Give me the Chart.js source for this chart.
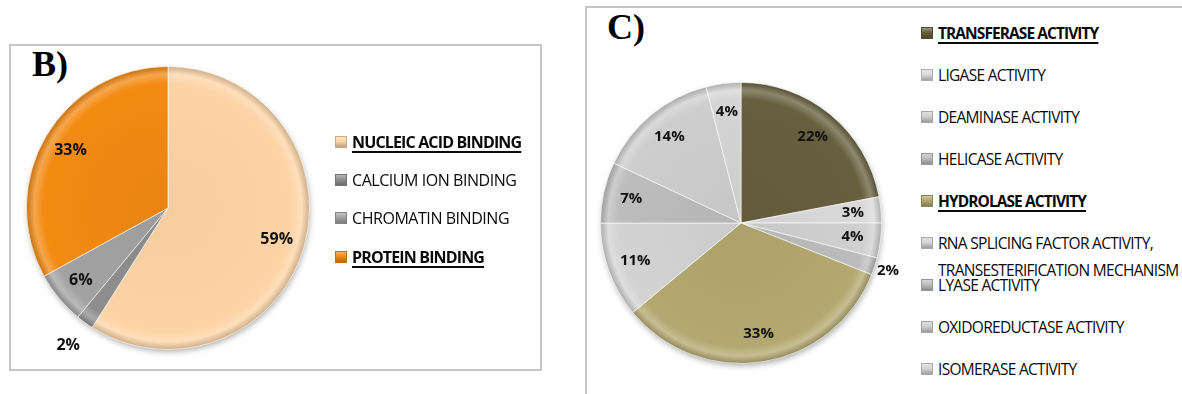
<!DOCTYPE html>
<html>
<head>
<meta charset="utf-8">
<script src="https://cdn.jsdelivr.net/npm/chart.js@4.4.1/dist/chart.umd.min.js"></script>
<style>
  html, body { margin: 0; padding: 0; background: #fff; }
  body { width: 1182px; height: 394px; overflow: hidden; position: relative; font-family: 'Open Sans', sans-serif; }
  .box { position: absolute; border: 2px solid #c6c6c6; box-sizing: border-box; }
  .tag { position: absolute; font: bold 36px 'Liberation Serif', 'Times New Roman', serif; color: #000; line-height: 1; }
  .pie { position: absolute; }
  .legend { position: absolute; }
  .item { position: absolute; left: 0; display: flex; align-items: flex-start; white-space: nowrap; }
  .mark { width: 12px; height: 12px; margin: 7px 5px 0 0; box-sizing: border-box; flex: none; }
  .txt { line-height: 27px; color: #0a0a0a; }
  .txt.hl { font-weight: bold; text-decoration: underline; text-decoration-thickness: 1.5px; text-underline-offset: 3px; }
  #legendB .txt { font-size: 16px; letter-spacing: -0.45px; }
  #legendB .txt.hl { letter-spacing: -0.85px; }
  #legendC .txt { font-size: 15.5px; letter-spacing: -0.7px; }
  #legendC .txt.hl { letter-spacing: -0.93px; }
</style>
</head>
<body>
<div class="box" style="left:9px;top:44px;width:533px;height:327px;"></div>
<div class="box" style="left:585px;top:6px;width:620px;height:420px;"></div>
<div class="tag" style="left:32px;top:46px;">B)</div>
<div class="tag" style="left:607px;top:9px;">C)</div>

<canvas id="pieB" class="pie" width="330" height="324" style="left:10px;top:45px;"></canvas>
<canvas id="pieC" class="pie" width="330" height="340" style="left:590px;top:50px;"></canvas>
<div id="legendB" class="legend" style="left:335px;top:0;"></div>
<div id="legendC" class="legend" style="left:921px;top:0;"></div>

<script>
// Molecular function shares (percent of annotated proteins)
const categoriesB = ['NUCLEIC ACID BINDING', 'CALCIUM ION BINDING', 'CHROMATIN BINDING', 'PROTEIN BINDING'];
const percentB = [59, 2, 6, 33];
const highlightB = ['NUCLEIC ACID BINDING', 'PROTEIN BINDING'];

const categoriesC = [
  'TRANSFERASE ACTIVITY',
  'LIGASE ACTIVITY',
  'DEAMINASE ACTIVITY',
  'HELICASE ACTIVITY',
  'HYDROLASE ACTIVITY',
  'RNA SPLICING FACTOR ACTIVITY, TRANSESTERIFICATION MECHANISM',
  'LYASE ACTIVITY',
  'OXIDOREDUCTASE ACTIVITY',
  'ISOMERASE ACTIVITY'
];
const percentC = [22, 3, 4, 2, 33, 11, 7, 14, 4];
const highlightC = ['TRANSFERASE ACTIVITY', 'HYDROLASE ACTIVITY'];

// Slice colours
const coloursB = ['#FDD4A6', '#8E8E8E', '#A2A2A2', '#F38A12'];
const coloursC = ['#675F3E', '#DADADA', '#D0D0D0', '#BCBCBC', '#B3A870', '#D3D3D3', '#BDBDBD', '#CECECE', '#D5D5D5'];

function mix(hex, t, target) {
  const n = parseInt(hex.slice(1), 16);
  const f = c => Math.round(c + (target - c) * t);
  return `rgb(${f(n >> 16)},${f((n >> 8) & 255)},${f(n & 255)})`;
}

// Bevelled look: radial gradient with a light rim and a darker outer edge
function shaded(colours) {
  return ctx => {
    const chart = ctx.chart;
    const base = colours[ctx.dataIndex];
    const ctrl = chart.getDatasetMeta(0).controller;
    const a = chart.chartArea;
    if (!a || !ctrl || !ctrl.outerRadius) return base;
    const cx = (a.left + a.right) / 2, cy = (a.top + a.bottom) / 2, r = ctrl.outerRadius;
    const g = chart.ctx.createRadialGradient(cx, cy, 0, cx, cy, r);
    g.addColorStop(0, mix(base, 0.04, 0));
    g.addColorStop(0.88, base);
    g.addColorStop(0.945, mix(base, 0.25, 255));
    g.addColorStop(1, mix(base, 0.18, 0));
    return g;
  };
}

// Soft drop shadow under the whole pie
const pieShadow = {
  id: 'pieShadow',
  beforeDatasetsDraw(chart) {
    const arc = chart.getDatasetMeta(0).data[0];
    if (!arc) return;
    const c = chart.ctx;
    c.save();
    c.shadowColor = 'rgba(0,0,0,0.35)';
    c.shadowBlur = 6;
    c.shadowOffsetX = 1;
    c.shadowOffsetY = 3;
    c.fillStyle = '#ddd';
    c.beginPath();
    c.arc(arc.x, arc.y, arc.outerRadius - 1, 0, Math.PI * 2);
    c.fill();
    c.restore();
  }
};

// Percentage labels: inside the slice, or just outside for tiny slices
const percentLabels = {
  id: 'percentLabels',
  afterDatasetsDraw(chart, args, opts) {
    const meta = chart.getDatasetMeta(0);
    const values = chart.data.datasets[0].data;
    const c = chart.ctx;
    c.save();
    c.font = `bold ${opts.size}px "Open Sans", sans-serif`;
    c.fillStyle = '#111';
    c.textAlign = 'center';
    c.textBaseline = 'middle';
    meta.data.forEach((arc, i) => {
      const mid = (arc.startAngle + arc.endAngle) / 2;
      const k = values[i] <= opts.outsideBelow ? opts.outside : opts.inside;
      const d = arc.outerRadius * k;
      c.fillText(values[i] + '%', arc.x + Math.cos(mid) * d, arc.y + Math.sin(mid) * d);
    });
    c.restore();
  }
};

function makePie(id, labels, values, colours, padding, outside, size) {
  return new Chart(document.getElementById(id), {
    type: 'pie',
    data: {
      labels: labels,
      datasets: [{
        data: values,
        backgroundColor: shaded(colours),
        borderColor: 'rgba(255,255,255,0.6)',
        borderWidth: 1,
        hoverOffset: 0,
        offset: 0
      }]
    },
    options: {
      responsive: false,
      animation: false,
      devicePixelRatio: 1,
      layout: { padding: padding },
      events: [],
      plugins: {
        legend: { display: false },
        tooltip: { enabled: false },
        percentLabels: { inside: 0.8, outside: outside, outsideBelow: 2, size: size }
      }
    },
    plugins: [pieShadow, percentLabels]
  });
}

makePie('pieB', categoriesB, percentB, coloursB, { left: 16, top: 21, right: 30, bottom: 19 }, 1.2, 16);
makePie('pieC', categoriesC, percentC, coloursC, { left: 10, top: 32, right: 38, bottom: 26 }, 1.1, 15);

// Legends drawn as text lists beside each pie
function makeLegend(id, labels, colours, highlight, firstCentre, step) {
  const host = document.getElementById(id);
  labels.forEach((label, i) => {
    const item = document.createElement('div');
    item.className = 'item';
    item.style.top = (firstCentre + step * i - 13.5) + 'px';
    const mark = document.createElement('div');
    mark.className = 'mark';
    const base = colours[i];
    mark.style.background = `linear-gradient(180deg, ${mix(base, 0.35, 255)} 0%, ${base} 45%, ${mix(base, 0.25, 0)} 100%)`;
    mark.style.border = `1px solid ${mix(base, 0.2, 0)}`;
    const txt = document.createElement('div');
    txt.className = 'txt' + (highlight.includes(label) ? ' hl' : '');
    label.split(/(?<=,) /).forEach((line, j) => {
      if (j) txt.appendChild(document.createElement('br'));
      txt.appendChild(document.createTextNode(line));
    });
    item.appendChild(mark);
    item.appendChild(txt);
    host.appendChild(item);
  });
}

makeLegend('legendB', categoriesB, coloursB, highlightB, 142, 38.4);
makeLegend('legendC', categoriesC, coloursC, highlightC, 33, 42);
</script>
</body>
</html>
